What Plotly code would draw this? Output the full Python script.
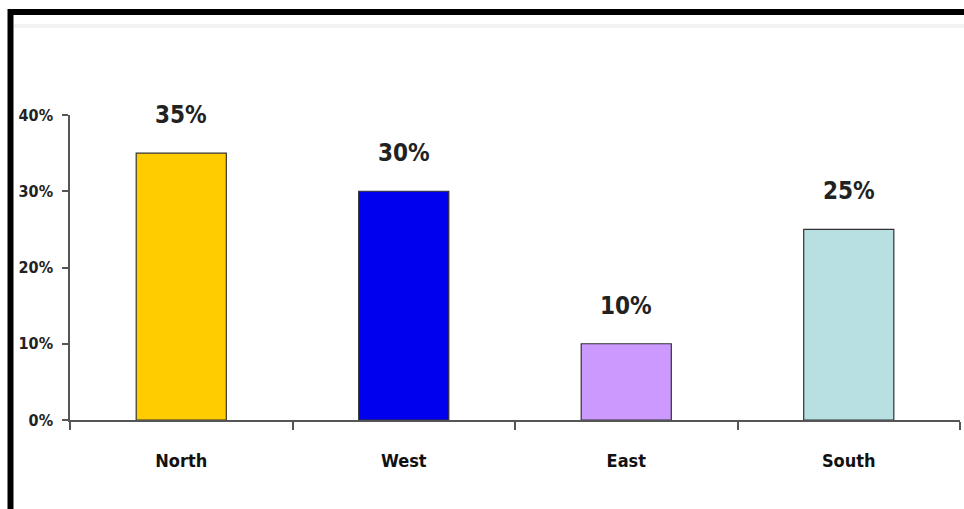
import plotly.graph_objects as go

# Regional share data
regions = ["North", "West", "East", "South"]
shares = [35, 30, 10, 25]
bar_colors = ["#FFCC00", "#0000EE", "#CC99FF", "#B8DFE2"]
y_ticks = [0, 10, 20, 30, 40]
y_tick_labels = ["0%", "10%", "20%", "30%", "40%"]

FONT = "DejaVu Sans Condensed, Liberation Sans Narrow, sans-serif"

W, H = 964, 509
L, R, T, B = 70, 4, 115, 89
plot_w = W - L - R
plot_h = H - T - B


def px_x(px):
    return (px - L) / plot_w


def px_y(py):
    return (H - B - py) / plot_h


fig = go.Figure()
fig.add_trace(go.Bar(
    x=regions,
    y=shares,
    width=0.405,
    marker=dict(color=bar_colors, line=dict(color="#333333", width=1.2)),
    hoverinfo="x+y",
))

# value labels above each bar
for reg, val in zip(regions, shares):
    fig.add_annotation(
        x=reg, y=val, text=f"{val}%", showarrow=False,
        yanchor="bottom", yshift=22,
        font=dict(family=FONT, size=24, color="#222222", weight="bold"),
    )

# outer black frame and faint top rule
fig.add_shape(type="rect", xref="paper", yref="paper",
              x0=px_x(10.5), x1=px_x(980), y0=px_y(530), y1=px_y(12),
              line=dict(color="#000000", width=6), fillcolor="rgba(0,0,0,0)",
              layer="above")
fig.add_shape(type="line", xref="paper", yref="paper",
              x0=px_x(14), x1=px_x(964), y0=px_y(26), y1=px_y(26),
              line=dict(color="rgba(0,0,0,0.05)", width=4))

fig.update_layout(
    width=W, height=H,
    margin=dict(l=L, r=R, t=T, b=B),
    paper_bgcolor="white", plot_bgcolor="white",
    showlegend=False,
    font=dict(family=FONT, color="#222222"),
)
fig.update_xaxes(
    type="category", tickson="boundaries",
    ticks="outside", ticklen=8, tickwidth=1.5, tickcolor="#555555",
    showline=True, linecolor="#555555", linewidth=1.5,
    showgrid=False, zeroline=False,
    tickfont=dict(family=FONT, size=18, color="#111111", weight="bold"),
    ticklabelstandoff=24,
)
fig.update_yaxes(
    range=[0, 40], tickvals=y_ticks, ticktext=y_tick_labels,
    ticks="outside", ticklen=6, tickwidth=1.5, tickcolor="#555555",
    showline=True, linecolor="#555555", linewidth=1.5,
    showgrid=False, zeroline=False,
    tickfont=dict(family=FONT, size=16, color="#222222", weight="bold"),
    ticklabelstandoff=6,
)

fig.write_html("out.html")
